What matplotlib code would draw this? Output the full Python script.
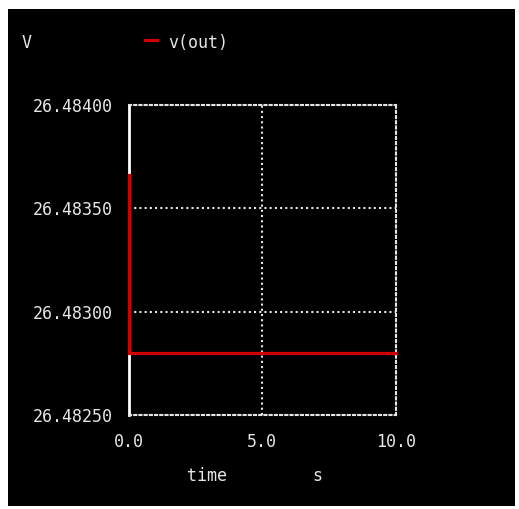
import matplotlib
matplotlib.use("Agg")
import matplotlib.pyplot as plt
from matplotlib.patches import Rectangle
from matplotlib.ticker import FormatStrFormatter

time = [0.0, 0.0, 10.0]
vout = [26.48366, 26.48280, 26.48280]
xticks = [0.0, 5.0, 10.0]
yticks = [26.48250, 26.48300, 26.48350, 26.48400]

W, H = 519, 509
fig = plt.figure(figsize=(W / 100, H / 100), dpi=100)
fig.patch.set_facecolor("white")
fig.patches.append(Rectangle((8 / W, 1 - 506 / H), (515 - 8) / W, (506 - 9) / H,
                             transform=fig.transFigure, facecolor="black",
                             edgecolor="none", zorder=-10))

fg = "#e6e6e6"
mono = "DejaVu Sans Mono"
fs = 12
left, right, top, bottom = 128.5, 396, 105, 415
ax = fig.add_axes([left / W, 1 - bottom / H, (right - left) / W, (bottom - top) / H])
ax.set_facecolor("black")
ax.set_xlim(0, 10)
ax.set_ylim(26.4825, 26.4840)
ax.set_xticks(xticks)
ax.set_yticks(yticks)
ax.xaxis.set_major_formatter(FormatStrFormatter("%.1f"))
ax.yaxis.set_major_formatter(FormatStrFormatter("%.5f"))
ax.tick_params(length=0, colors=fg, labelsize=fs, pad=11)
for lab in ax.get_xticklabels() + ax.get_yticklabels():
    lab.set_family(mono)
ax.tick_params(axis="x", pad=13)

dot = (0, (1, 1.5))
ax.grid(True, color=fg, linestyle=dot, linewidth=1.5)
for s in ["top", "right", "bottom"]:
    ax.spines[s].set_color(fg)
    ax.spines[s].set_linestyle(dot)
    ax.spines[s].set_linewidth(1.5)
ax.spines["left"].set_color("white")
ax.spines["left"].set_linewidth(2)

ax.plot(time, vout, color="#d00000", linewidth=2.3, zorder=5, clip_on=False,
        solid_joinstyle="miter")

fig.text(27 / W, 1 - 43 / H, "V", color=fg, family=mono, fontsize=fs,
         ha="center", va="center")
fig.lines.append(plt.Line2D([145 / W, 157 / W], [1 - 40 / H, 1 - 40 / H],
                            transform=fig.transFigure, color="#d00000", linewidth=2.3))
fig.text(168 / W, 1 - 43 / H, "v(out)", color=fg, family=mono, fontsize=fs,
         ha="left", va="center")
fig.text(207 / W, 1 - 476 / H, "time", color=fg, family=mono, fontsize=fs,
         ha="center", va="center")
fig.text(317 / W, 1 - 476 / H, "s", color=fg, family=mono, fontsize=fs,
         ha="center", va="center")

fig.savefig("out.png", dpi=100, facecolor=fig.get_facecolor())
